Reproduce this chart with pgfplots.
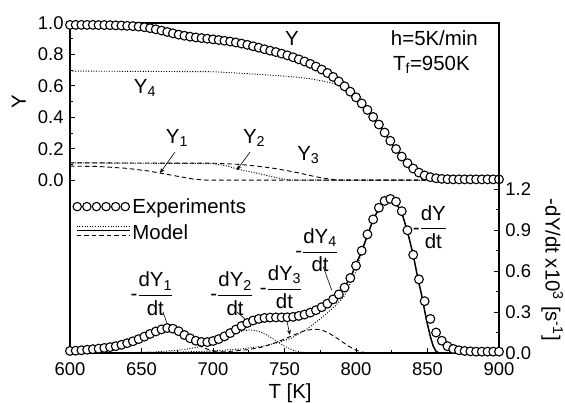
\documentclass[border=0pt]{standalone}
\usepackage{fontspec}
\setmainfont{Liberation Sans}
\usepackage{amsmath}
\usepackage{pgfplots}
\pgfplotsset{compat=1.18}
\usetikzlibrary{arrows.meta}
\newcommand\fa{\fontsize{18.5}{20}\selectfont}
\newcommand\fb{\fontsize{20.5}{22}\selectfont}
\tikzset{
  mydash/.style={black, line width=0.9bp, dash pattern=on 4.5bp off 3bp},
  mydot/.style={black, line width=0.9bp, dash pattern=on 1bp off 1.6bp},
}
\begin{document}
\begin{tikzpicture}
\pgfplotsset{
  base/.style={width=429bp, height=330bp, scale only axis,
    xmin=600, xmax=900,
    axis line style={line width=1.1bp},
    major tick length=5bp, minor tick length=3bp,
    every tick/.style={black, line width=0.9bp},
    tick label style={font=\fa, inner sep=1bp},
    /pgf/number format/assume math mode=true},
  expt/.style={black, only marks, mark=*, mark size=4.4bp,
    mark options={fill=white, draw=black, line width=1.1bp}},
  model/.style={black, line width=1.5bp, no marks},
}
\begin{axis}[base,
  ymin=-1.1, ymax=1,
  xtick={600,650,700,750,800,850,900},
  minor xtick={625,675,725,775,825,875},
  ytick={0,0.2,0.4,0.6,0.8,1.0},
  minor ytick={0.1,0.3,0.5,0.7,0.9},
  xtick pos=bottom, ytick pos=left,
  xticklabel style={yshift=-8.7bp},
  yticklabel style={xshift=-5.2bp, /pgf/number format/.cd, fixed, fixed zerofill, precision=1},
  xlabel={T [K]}, ylabel={Y},
  xlabel style={font=\fb, at={(axis description cs:0.513,-0.121)}, anchor=center},
  ylabel style={font=\fb, at={(axis description cs:-0.119,0.761)}, anchor=center},
  legend style={at={(axis description cs:0.003,0.478)}, anchor=north west,
    draw=none, fill=none, font=\fb, inner sep=1bp, row sep=6bp},
  legend cell align=left,
]
\addlegendimage{legend image code/.code={
  \foreach \i in {0,...,5}{\draw[line width=1.1bp, fill=white] (\i*9.6bp+4.5bp,0bp) circle (4.2bp);}}}
\addlegendimage{legend image code/.code={
  \draw[mydot] (4bp,6bp) -- (57bp,6bp);
  \draw[black, line width=1.5bp] (4bp,2.5bp) -- (57bp,2.5bp);
  \draw[mydash] (4bp,-3bp) -- (57bp,-3bp);}}
\legend{Experiments, Model}

% components Y1..Y4
\addplot[mydash] coordinates {(600,0.089)(620,0.087)(640,0.075)(655,0.058)(663,0.045)(675,0.025)(686,0.007)(695,0)(900,0)};
\addplot[mydot] coordinates {(600,0.11)(700,0.105)(710,0.09)(717,0.07)(725,0.055)(733,0.04)(742,0.02)(750,0.006)(756,0)(900,0)};
\addplot[mydash] coordinates {(600,0.11)(700,0.108)(719,0.10)(730,0.09)(742,0.076)(752,0.06)(761,0.044)(770,0.025)(777,0.013)(785,0.003)(790,0)(900,0)};
\addplot[mydot] coordinates {(600,0.694)(700,0.690)(712,0.684)(725,0.677)(740,0.668)(750,0.662)(759,0.655)(768,0.645)(776,0.632)(782,0.62)(790,0.60)(796,0.56)};

% experiments Y
\addplot[expt] coordinates {
(600,0.988)(604,0.988)(608,0.988)(612,0.988)(616,0.988)(620,0.987)(624,0.987)(628,0.986)
(632,0.985)(636,0.984)(640,0.982)(644,0.980)(648,0.977)(652,0.973)(656,0.967)(660,0.960)
(664,0.952)(668,0.943)(672,0.934)(676,0.926)(680,0.919)(684,0.913)(688,0.908)(692,0.904)
(696,0.900)(700,0.896)(704,0.892)(708,0.887)(712,0.882)(716,0.876)(720,0.869)(724,0.861)
(728,0.852)(732,0.843)(736,0.833)(740,0.824)(744,0.815)(748,0.805)(752,0.794)(756,0.782)
(760,0.769)(764,0.755)(768,0.740)(772,0.723)(776,0.704)(780,0.682)(784,0.657)(788,0.628)
(792,0.597)(796,0.563)(800,0.527)(804,0.488)(808,0.447)(812,0.402)(816,0.354)(820,0.303)
(824,0.250)(828,0.198)(832,0.150)(836,0.108)(840,0.074)(844,0.048)(848,0.030)(852,0.019)
(856,0.012)(860,0.008)(864,0.006)(868,0.005)(872,0.005)(876,0.005)(880,0.005)(884,0.005)
(888,0.005)(892,0.005)(896,0.005)(900,0.005)};
% model Y
\addplot[model] coordinates {
(600,0.990)(620,0.989)(636,0.985)(648,0.978)(656,0.968)(664,0.953)(672,0.935)(680,0.919)
(688,0.907)(696,0.899)(704,0.891)(712,0.881)(720,0.868)(728,0.851)(736,0.832)(744,0.813)
(752,0.792)(760,0.766)(768,0.737)(776,0.700)(784,0.653)(792,0.594)(800,0.524)(808,0.444)
(816,0.351)(824,0.247)(832,0.146)(840,0.068)(846,0.030)(850,0.012)(854,0.004)(858,0.001)
(862,0)(900,0)};

% labels
\node[font=\fb] at (axis cs:755.2,0.904) {Y};
\node[font=\fb, anchor=west] at (axis cs:822,0.904) {h=5K/min};
\node[font=\fb, anchor=west] at (axis cs:823.5,0.732) {T\textsubscript{f}=950K};
\node[font=\fb] at (axis cs:652.4,0.586) {Y\textsubscript{4}};
\node[font=\fb] at (axis cs:674.8,0.267) {Y\textsubscript{1}};
\draw[-{Stealth[length=5bp,width=4bp]}, line width=0.6bp] (axis cs:673.4,0.178) -- (axis cs:662.9,0.045);
\node[font=\fb] at (axis cs:728.7,0.267) {Y\textsubscript{2}};
\draw[-{Stealth[length=5bp,width=4bp]}, line width=0.6bp] (axis cs:725.9,0.178) -- (axis cs:716.6,0.064);
\node[font=\fb] at (axis cs:766.7,0.159) {Y\textsubscript{3}};

\node[font=\fb] at (axis cs:657.3,-0.723) {-$\dfrac{\text{dY}_{\text{1}}}{\text{dt}}$};
\draw[line width=0.6bp] (axis cs:665,-0.838) -- (axis cs:668.7,-0.934);
\node[font=\fb] at (axis cs:713.1,-0.723) {-$\dfrac{\text{dY}_{\text{2}}}{\text{dt}}$};
\draw[line width=0.6bp] (axis cs:716.6,-0.838) -- (axis cs:724.7,-0.902);
\node[font=\fb] at (axis cs:747.6,-0.681) {-$\dfrac{\text{dY}_{\text{3}}}{\text{dt}}$};
\draw[-{Stealth[length=5bp,width=4bp]}, line width=0.6bp] (axis cs:751,-0.869) -- (axis cs:753.8,-0.985);
\node[font=\fb] at (axis cs:772.5,-0.445) {-$\dfrac{\text{dY}_{\text{4}}}{\text{dt}}$};
\draw[line width=0.6bp] (axis cs:777.1,-0.551) -- (axis cs:783,-0.70);
\node[font=\fb] at (axis cs:851.7,-0.297) {-$\dfrac{\text{dY}}{\text{dt}}$};

\coordinate (sw) at (rel axis cs:0,0);
\coordinate (ne) at (rel axis cs:1,1);
\end{axis}

\begin{axis}[base,
  ymin=0, ymax=2.42,
  axis x line=none, axis y line*=right,
  ytick={0,0.3,0.6,0.9,1.2},
  minor ytick={0.15,0.45,0.75,1.05},
  yticklabel style={xshift=5.2bp, /pgf/number format/.cd, fixed, fixed zerofill, precision=1},
  ylabel={-dY/dt x10\textsuperscript{3} [s\textsuperscript{-1}]},
  ylabel style={font=\fb, rotate=180, at={(axis description cs:1.124,0.252)}, anchor=center},
]
% component rates
\addplot[mydash] coordinates {(600,0.01)(610,0.015)(620,0.025)(630,0.04)(640,0.065)(650,0.10)(658,0.135)(665,0.16)(670,0.165)(675,0.15)(680,0.12)(686,0.08)(692,0.045)(698,0.02)(704,0.008)(710,0)(720,0)};
\addplot[mydot] coordinates {(640,0.002)(660,0.008)(680,0.025)(695,0.055)(705,0.09)(713,0.13)(720,0.16)(726,0.17)(732,0.16)(738,0.13)(744,0.09)(750,0.05)(756,0.02)(762,0.005)(770,0)};
\addplot[mydash] coordinates {(690,0.003)(710,0.01)(725,0.025)(735,0.045)(745,0.08)(755,0.125)(763,0.16)(770,0.175)(776,0.17)(782,0.14)(788,0.10)(794,0.055)(800,0.02)(805,0.005)(810,0)};
\addplot[mydot] coordinates {(650,0.002)(680,0.008)(700,0.015)(720,0.03)(735,0.05)(745,0.075)(755,0.11)(765,0.17)(775,0.25)(785,0.34)(792,0.42)(800,0.60)(804,0.74)(808,0.86)};

% experiments rate
\addplot[expt] coordinates {
(600,0.015)(604,0.017)(608,0.020)(612,0.024)(616,0.028)(620,0.032)(624,0.037)(628,0.043)
(632,0.050)(636,0.060)(640,0.072)(644,0.086)(648,0.102)(652,0.120)(656,0.140)(660,0.158)
(664,0.173)(668,0.183)(672,0.178)(676,0.160)(680,0.132)(684,0.108)(688,0.090)(692,0.081)
(696,0.080)(700,0.088)(704,0.102)(708,0.122)(712,0.146)(716,0.172)(720,0.198)(724,0.220)
(728,0.238)(732,0.250)(736,0.257)(740,0.260)(744,0.261)(748,0.261)(752,0.262)(756,0.265)
(760,0.272)(764,0.282)(768,0.296)(772,0.314)(776,0.336)(780,0.362)(784,0.393)(788,0.430)
(792,0.480)(796,0.550)(800,0.640)(804,0.750)(808,0.870)(812,0.980)(816,1.065)(820,1.115)
(824,1.130)(828,1.110)(832,1.040)(836,0.900)(840,0.720)(844,0.540)(848,0.380)(852,0.250)
(856,0.150)(860,0.090)(864,0.050)(868,0.030)(872,0.020)(876,0.015)(880,0.012)(884,0.010)
(888,0.010)(892,0.010)(896,0.010)(900,0.010)};
% model rate
\addplot[model] coordinates {
(600,0.012)(612,0.022)(624,0.035)(636,0.058)(644,0.085)(652,0.120)(660,0.158)(668,0.180)
(674,0.170)(680,0.130)(688,0.090)(696,0.080)(704,0.100)(712,0.145)(720,0.195)(728,0.236)
(736,0.256)(748,0.260)(756,0.264)(764,0.280)(772,0.312)(780,0.360)(788,0.428)(796,0.548)
(804,0.748)(812,0.978)(816,1.06)(820,1.11)(824,1.125)(828,1.10)(832,1.03)(836,0.89)
(840,0.72)(843,0.56)(846,0.42)(848,0.31)(850,0.21)(852,0.12)(854,0.05)(856,0.012)(858,0)(900,0)};
\end{axis}

\path (sw) ++(-70bp,-50bp) coordinate (bl);
\path (ne) ++(66bp,23bp) coordinate (tr);
\pgfresetboundingbox
\useasboundingbox (bl) rectangle (tr);
\end{tikzpicture}
\end{document}
